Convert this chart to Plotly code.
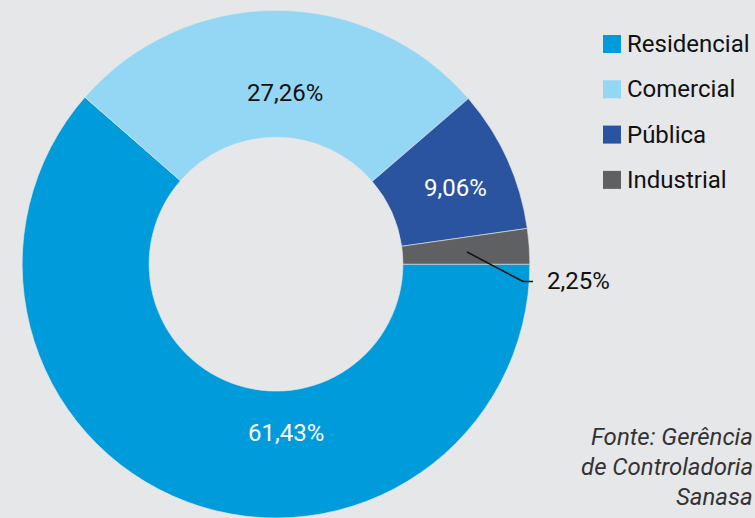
import plotly.graph_objects as go

# Consumption share by category
categories = ["Residencial", "Comercial", "Pública", "Industrial"]
shares = [61.43, 27.26, 9.06, 2.25]
colors = ["#009bdb", "#93d7f5", "#2b54a0", "#5f6062"]
label_colors = ["#ffffff", "#111111", "#ffffff", "#111111"]
source_lines = ["Fonte: Gerência", "de Controladoria", "Sanasa"]

BG = "#e6e7e9"
FONT = "Roboto, 'DejaVu Sans', sans-serif"
W, H = 755, 518


def fmt(v):
    return f"{v:.2f}".replace(".", ",") + "%"


fig = go.Figure(
    go.Pie(
        labels=categories,
        values=shares,
        sort=False,
        direction="clockwise",
        rotation=90,
        hole=0.5,
        marker=dict(colors=colors, line=dict(color=BG, width=0.6)),
        textinfo="none",
        hoverinfo="label+percent",
        showlegend=False,
        domain=dict(x=[22 / W, 530 / W], y=[0, 0.98]),
    )
)

annotations = []
# value labels on the ring (pixel positions converted to paper coordinates)
label_pos = [(286, 449), (285, 77), (455, 188)]
for v, c, (px, py) in zip(shares[:3], label_colors[:3], label_pos):
    annotations.append(dict(
        x=px / W, y=1 - py / H, xref="paper", yref="paper",
        text=fmt(v), showarrow=False,
        font=dict(family=FONT, size=24, color=c),
    ))
# small slice label with leader line
annotations.append(dict(
    x=545 / W, y=1 - 281 / H, xref="paper", yref="paper", xanchor="left",
    text=fmt(shares[3]), showarrow=False,
    font=dict(family=FONT, size=24, color=label_colors[3]),
))

shapes = [
    dict(type="path", xref="paper", yref="paper",
         path=f"M {467/W},{1-252/H} L {523/W},{1-281.5/H} L {533/W},{1-281.5/H}",
         line=dict(color="#111111", width=1.5)),
]

# legend drawn as squares + text
for i, (name, col) in enumerate(zip(categories, colors)):
    cy = 44 + i * 45.3
    shapes.append(dict(
        type="rect", xref="paper", yref="paper",
        x0=603 / W, x1=621 / W, y0=1 - (cy + 9) / H, y1=1 - (cy - 9) / H,
        fillcolor=col, line=dict(width=0),
    ))
    annotations.append(dict(
        x=625 / W, y=1 - cy / H, xref="paper", yref="paper",
        xanchor="left", yanchor="middle", text=name, showarrow=False,
        font=dict(family=FONT, size=24, color="#111111"),
    ))

# source note
for i, line in enumerate(source_lines):
    annotations.append(dict(
        x=755 / W, y=1 - (437 + 30 * i) / H, xref="paper", yref="paper",
        xanchor="right", yanchor="middle", text=f"<i>{line}</i>", showarrow=False,
        font=dict(family=FONT, size=24, color="#333333"),
    ))

fig.update_layout(
    width=W, height=H,
    margin=dict(l=0, r=0, t=0, b=0),
    paper_bgcolor=BG, plot_bgcolor=BG,
    annotations=annotations, shapes=shapes,
)

fig.write_html("out.html")
